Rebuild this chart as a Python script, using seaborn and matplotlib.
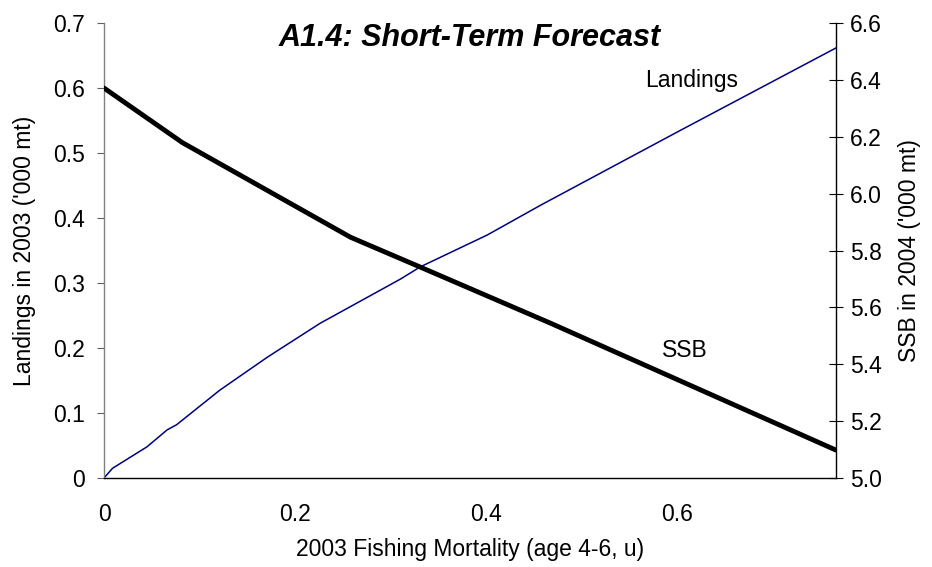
import numpy as np
import pandas as pd
import seaborn as sns
import matplotlib.pyplot as plt

# values
landings_f = [0, 0.009, 0.045, 0.066, 0.076, 0.121, 0.171, 0.226, 0.310, 0.331, 0.401, 0.457, 0.603, 0.766]
landings = [0, 0.015, 0.048, 0.074, 0.082, 0.135, 0.186, 0.238, 0.306, 0.325, 0.374, 0.420, 0.535, 0.662]
ssb_f = [0, 0.082, 0.258, 0.331, 0.467, 0.766]
ssb = [6.372, 6.180, 5.847, 5.742, 5.545, 5.098]
x_ticks = [0, 0.2, 0.4, 0.6]
left_ticks = [0, 0.1, 0.2, 0.3, 0.4, 0.5, 0.6, 0.7]
right_ticks = [5.0, 5.2, 5.4, 5.6, 5.8, 6.0, 6.2, 6.4, 6.6]

land_df = pd.DataFrame({"F": landings_f, "Landings": landings})
ssb_df = pd.DataFrame({"F": ssb_f, "SSB": ssb})

sns.set_style("white")
plt.rcParams['font.family'] = ['Liberation Sans', 'DejaVu Sans']
plt.rcParams['text.color'] = 'black'
plt.rcParams['axes.labelcolor'] = 'black'
plt.rcParams['xtick.labelcolor'] = 'black'
plt.rcParams['ytick.labelcolor'] = 'black'

fig = plt.figure(figsize=(9.32, 5.67), dpi=100)
ax = fig.add_axes([0.1116, 0.157, 0.7854, 0.802])
ax2 = ax.twinx()

sns.lineplot(data=land_df, x="F", y="Landings", ax=ax, color="#000080", linewidth=1.1, sort=False)
sns.lineplot(data=ssb_df, x="F", y="SSB", ax=ax2, color="black", linewidth=3.5, sort=False)

ax.set_xlim(0, 0.766)
ax.set_ylim(0, 0.7)
ax2.set_ylim(5.0, 6.6)
ax.set_xticks(x_ticks)
ax.set_xticklabels(["0", "0.2", "0.4", "0.6"])
ax.set_yticks(left_ticks)
ax.set_yticklabels(["0", "0.1", "0.2", "0.3", "0.4", "0.5", "0.6", "0.7"])
ax2.set_yticks(right_ticks)
ax2.set_yticklabels([f"{v:.1f}" for v in right_ticks])

ax.spines['top'].set_visible(False)
ax2.spines['top'].set_visible(False)
ax.spines['left'].set_color("#808080")
ax.spines['bottom'].set_color("black")
ax.spines['right'].set_visible(False)
ax2.spines['left'].set_visible(False)
ax2.spines['bottom'].set_visible(False)
ax2.spines['right'].set_color("black")
for a in (ax, ax2):
    for s in a.spines.values():
        s.set_linewidth(1.0)

ax.tick_params(axis='x', direction='out', length=5, color="#808080", labelsize=16.5, pad=13)
ax.tick_params(axis='y', direction='out', length=5, color="#606060", labelsize=16.5, pad=9)
ax2.tick_params(axis='y', direction='inout', length=10, color="black", labelsize=16.5, pad=5)

ax.set_xlabel("2003 Fishing Mortality (age 4-6, u)", fontsize=16.5, labelpad=9)
ax.set_ylabel("Landings in 2003 ('000 mt)", fontsize=16.5, labelpad=12)
ax2.set_ylabel("SSB in 2004 ('000 mt)", fontsize=16.5, labelpad=12)

ax.text(0.5, 1.0, "A1.4: Short-Term Forecast", transform=ax.transAxes, ha="center", va="top",
        fontsize=22, fontweight="bold", fontstyle="italic")
ax.text(0.803, 0.875, "Landings", transform=ax.transAxes, ha="center", va="center", fontsize=16.5)
ax.text(0.794, 0.281, "SSB", transform=ax.transAxes, ha="center", va="center", fontsize=16.5)

fig.savefig("out.png", dpi=100)
